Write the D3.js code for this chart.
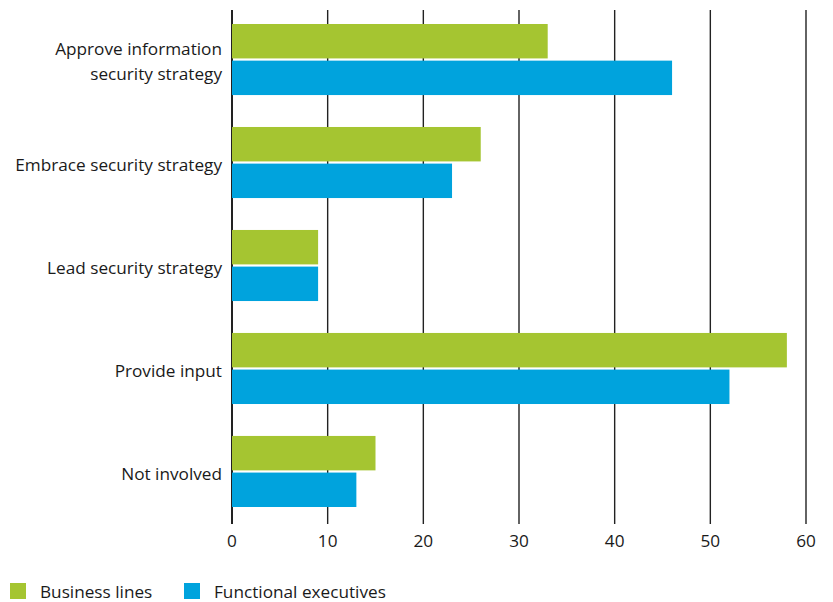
<!DOCTYPE html>
<html><head><meta charset="utf-8">
<script src="https://cdn.jsdelivr.net/npm/d3@7"></script>
<style>body{margin:0;background:#fff}svg{display:block}text{font-family:"Open Sans","Noto Sans",sans-serif;fill:#1a1a1a}</style>
</head><body>
<svg id="c" width="833" height="602"></svg>
<script>
const categories = ["Approve information|security strategy","Embrace security strategy","Lead security strategy","Provide input","Not involved"];
const seriesNames = ["Business lines","Functional executives"];
const businessLines = [33,26,9,58,15];
const functionalExecutives = [46,23,9,52,13];
const tickValues = [0,10,20,30,40,50,60];
const colors = ["#a5c531","#00a3dd"];

const svg = d3.select("#c");
const x = d3.scaleLinear().domain([0,60]).range([232,806]);
const y = d3.scaleBand().domain(categories).range([24,507]).paddingInner(0.31).paddingOuter(0);
const ys = d3.scaleBand().domain(seriesNames).range([0,y.bandwidth()]).paddingInner(0.06);

// gridlines
svg.append("g").selectAll("line").data(tickValues).join("line")
  .attr("x1",d=>x(d)).attr("x2",d=>x(d)).attr("y1",10).attr("y2",524)
  .attr("stroke","#222").attr("stroke-width",d=>d===0?2:1.4);

const data = categories.map((c,i)=>({c, vals:[businessLines[i],functionalExecutives[i]]}));
const g = svg.append("g").selectAll("g").data(data).join("g")
  .attr("transform",d=>`translate(0,${y(d.c)})`);
g.selectAll("rect").data(d=>d.vals.map((v,j)=>({v,s:seriesNames[j],j}))).join("rect")
  .attr("x",x(0)).attr("y",d=>ys(d.s)).attr("width",d=>x(d.v)-x(0)).attr("height",ys.bandwidth())
  .attr("fill",d=>colors[d.j]);

// category labels
const lab = svg.append("g").selectAll("text").data(categories).join("text")
  .attr("text-anchor","end").attr("font-size",17.2)
  .attr("transform",d=>`translate(222,${y(d)+y.bandwidth()/2+2})`);
lab.each(function(d){
  const lines = d.split("|");
  const t = d3.select(this);
  lines.forEach((l,k)=>{
    t.append("tspan").attr("x",0).attr("y",(k-(lines.length-1)/2)*25).attr("dy","0.35em").text(l);
  });
});

// x tick labels
svg.append("g").selectAll("text").data(tickValues).join("text")
  .attr("x",d=>x(d)).attr("y",541).attr("dy","0.35em").attr("text-anchor","middle")
  .attr("font-size",17.2).text(d=>d);

// legend
const lg = svg.append("g").selectAll("g").data(seriesNames).join("g")
  .attr("transform",(d,i)=>`translate(${[10,184][i]},583)`);
lg.append("rect").attr("width",16).attr("height",16).attr("fill",(d,i)=>colors[i]);
lg.append("text").attr("x",30).attr("y",9).attr("dy","0.35em").attr("font-size",17.2).text(d=>d);
</script>
</body></html>
